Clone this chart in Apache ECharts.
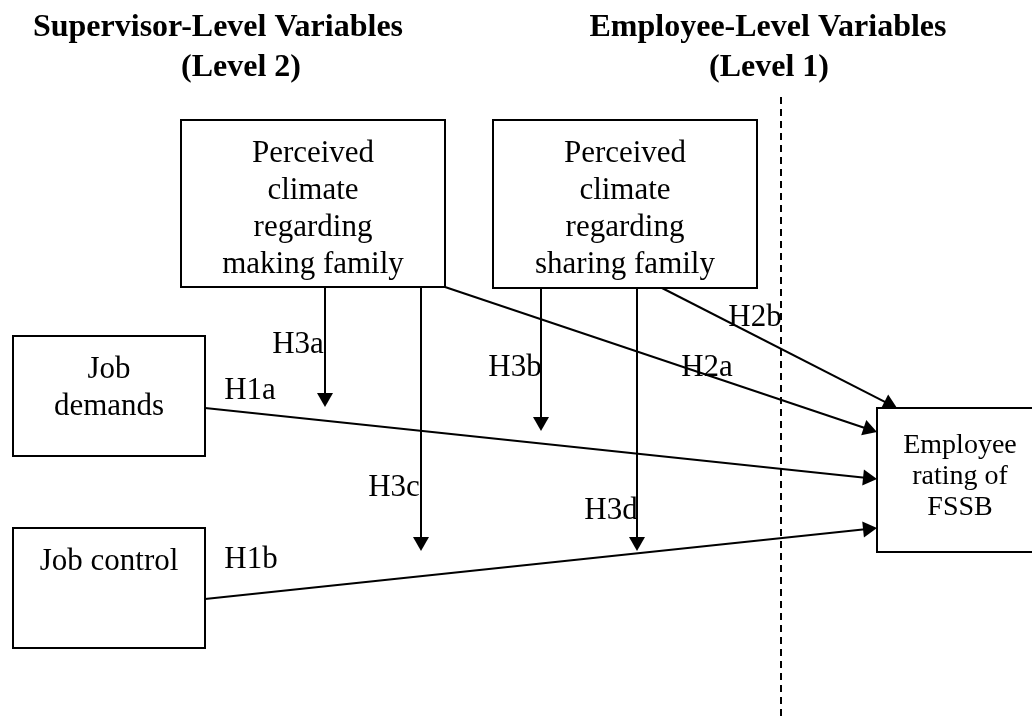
<!DOCTYPE html>
<html>
<head>
<meta charset="utf-8">
<script src="https://cdn.jsdelivr.net/npm/echarts@6/dist/echarts.min.js"></script>
<style>
html,body{margin:0;padding:0;background:#fff;}
#chart{width:1032px;height:717px;}
</style>
</head>
<body>
<div id="chart"></div>
<script>
// ---- Diagram content (diagram coordinate space: x 0..1032, y 0..717 downward) ----
const titleTexts = ['Supervisor-Level Variables', '(Level 2)', 'Employee-Level Variables', '(Level 1)'];
const titlePoints = [[218, 25], [241, 65], [768, 25], [769, 65]];

const boxTexts = [
  'Perceived\nclimate\nregarding\nmaking family',
  'Perceived\nclimate\nregarding\nsharing family',
  'Job\ndemands',
  'Job control',
  'Employee\nrating of\nFSSB'
];
const boxCorners = [
  [181, 120, 445, 287],
  [493, 120, 757, 288],
  [13, 336, 205, 456],
  [13, 528, 205, 648],
  [877, 408, 1043, 552]
];

const pathLabels = ['H1a', 'H1b', 'H2a', 'H2b', 'H3a', 'H3b', 'H3c', 'H3d'];
const pathFrom = [[205, 408], [205, 599], [445, 287], [662, 288], [325, 287], [541, 288], [421, 287], [637, 288]];
const pathTo = [[877, 479], [877, 528], [877, 432], [897, 408], [325, 407], [541, 431], [421, 551], [637, 551]];
const pathLabelPoints = [[250, 388], [251, 557], [707, 365], [755, 315], [298, 342], [515, 365], [394, 485], [611, 508]];

const levelDivider = [[781, 97], [781, 717]];

// ---- Build chart ----
const FONT = '"Liberation Serif", "Times New Roman", serif';
const TEXT_SHIFT = 3; // glyph-centre vs. canvas 'middle' baseline correction
const chart = echarts.init(document.getElementById('chart'), null, {renderer: 'canvas'});

const option = {
  animation: false,
  backgroundColor: '#fff',
  grid: {left: 0, right: 0, top: 0, bottom: 0},
  xAxis: {type: 'value', min: 0, max: 1032, show: false},
  yAxis: {type: 'value', min: 0, max: 717, inverse: true, show: false},
  series: [
    // level divider (dashed)
    {
      type: 'custom',
      coordinateSystem: 'cartesian2d',
      silent: true,
      data: [[levelDivider[0][0], levelDivider[0][1], levelDivider[1][0], levelDivider[1][1]]],
      encode: {x: [0, 2], y: [1, 3]},
      renderItem: function (params, api) {
        const a = api.coord([api.value(0), api.value(1)]);
        const b = api.coord([api.value(2), api.value(3)]);
        return {
          type: 'line',
          shape: {x1: a[0], y1: a[1], x2: b[0], y2: b[1]},
          style: {stroke: '#000', lineWidth: 2, lineDash: [7, 5]}
        };
      }
    },
    // boxes
    {
      type: 'custom',
      coordinateSystem: 'cartesian2d',
      silent: true,
      data: boxCorners.map(function (c, i) { return [c[0], c[1], c[2], c[3], i]; }),
      encode: {x: [0, 2], y: [1, 3]},
      renderItem: function (params, api) {
        const i = api.value(4);
        const p0 = api.coord([api.value(0), api.value(1)]);
        const p1 = api.coord([api.value(2), api.value(3)]);
        const small = (i === 4);
        const fs = small ? 28 : 31;
        const lh = small ? 31 : 37;
        const pad = (small ? 19.5 : 12.5) + TEXT_SHIFT;
        return {
          type: 'group',
          children: [
            {
              type: 'rect',
              shape: {x: p0[0], y: p0[1], width: p1[0] - p0[0], height: p1[1] - p0[1]},
              style: {fill: '#fff', stroke: '#000', lineWidth: 2}
            },
            {
              type: 'text',
              x: (p0[0] + p1[0]) / 2,
              y: p0[1] + pad,
              style: {
                text: boxTexts[i],
                font: fs + 'px ' + FONT,
                fill: '#000',
                align: 'center',
                verticalAlign: 'top',
                lineHeight: lh
              }
            }
          ]
        };
      }
    },
    // arrows
    {
      type: 'custom',
      coordinateSystem: 'cartesian2d',
      silent: true,
      data: pathFrom.map(function (f, i) { return [f[0], f[1], pathTo[i][0], pathTo[i][1]]; }),
      encode: {x: [0, 2], y: [1, 3]},
      renderItem: function (params, api) {
        const a = api.coord([api.value(0), api.value(1)]);
        const b = api.coord([api.value(2), api.value(3)]);
        const dx = b[0] - a[0], dy = b[1] - a[1];
        const len = Math.sqrt(dx * dx + dy * dy);
        const ux = dx / len, uy = dy / len;
        const nx = -uy, ny = ux;
        const hl = 14, hw = 8;
        const bx = b[0] - ux * hl, by = b[1] - uy * hl;
        return {
          type: 'group',
          children: [
            {
              type: 'line',
              shape: {x1: a[0], y1: a[1], x2: bx + ux * 2, y2: by + uy * 2},
              style: {stroke: '#000', lineWidth: 2}
            },
            {
              type: 'polygon',
              shape: {points: [[b[0], b[1]], [bx + nx * hw, by + ny * hw], [bx - nx * hw, by - ny * hw]]},
              style: {fill: '#000'}
            }
          ]
        };
      }
    },
    // path labels
    {
      type: 'custom',
      coordinateSystem: 'cartesian2d',
      silent: true,
      data: pathLabelPoints.map(function (p, i) { return [p[0], p[1], i]; }),
      renderItem: function (params, api) {
        const p = api.coord([api.value(0), api.value(1)]);
        return {
          type: 'text',
          x: p[0], y: p[1] + TEXT_SHIFT,
          style: {
            text: pathLabels[api.value(2)],
            font: '31px ' + FONT,
            fill: '#000',
            align: 'center',
            verticalAlign: 'middle'
          }
        };
      }
    },
    // titles
    {
      type: 'custom',
      coordinateSystem: 'cartesian2d',
      silent: true,
      data: titlePoints.map(function (p, i) { return [p[0], p[1], i]; }),
      renderItem: function (params, api) {
        const p = api.coord([api.value(0), api.value(1)]);
        return {
          type: 'text',
          x: p[0], y: p[1] + TEXT_SHIFT,
          style: {
            text: titleTexts[api.value(2)],
            font: 'bold 32px ' + FONT,
            fill: '#000',
            align: 'center',
            verticalAlign: 'middle'
          }
        };
      }
    }
  ]
};
chart.setOption(option);
</script>
</body>
</html>
